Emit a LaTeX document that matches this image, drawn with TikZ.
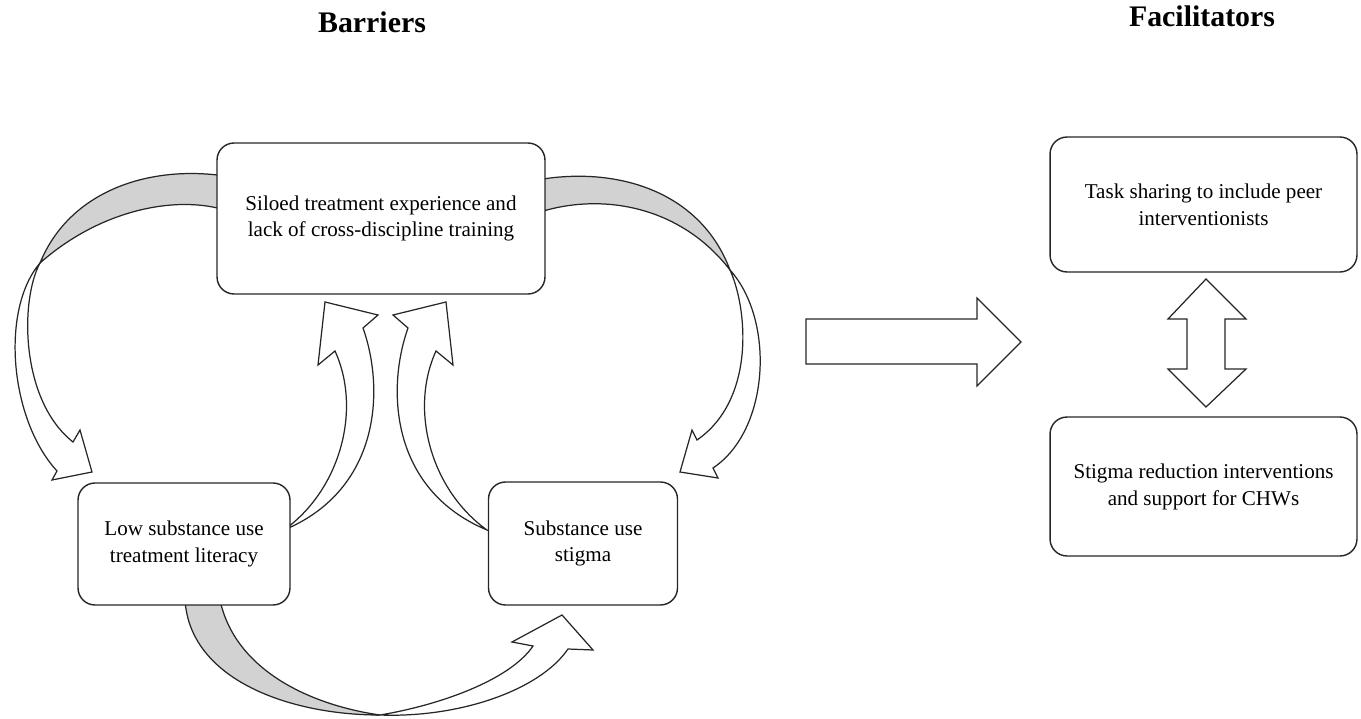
\documentclass[tikz,border=0pt]{standalone}
\usepackage{fontspec}
\setmainfont{Liberation Serif}
\usetikzlibrary{positioning}

\begin{document}
\begin{tikzpicture}[
    x=0.02cm, y=-0.02cm,
    box/.style={rectangle, rounded corners=0.34cm, draw=black!85, line width=0.8pt, fill=white, align=center, inner sep=0pt, font=\fontsize{12}{15.3}\selectfont},
    heading/.style={anchor=base, font=\fontsize{17}{20}\selectfont\bfseries},
    blockarrow/.style={draw=black!85, line width=0.7pt, fill=white},
    backside/.style={draw=black!85, line width=0.7pt, fill=gray!35}
]
    \useasboundingbox (0,0) rectangle (1361,719);

    \node[heading] (barriers) at (372,33) {Barriers};
    \node[heading] (facilitators) at (1202,27) {Facilitators};

    % curved arrows behind the boxes
    \draw[backside] (225,176) .. controls (150,165) and (70,190) .. (40,263) .. controls (100,210) and (175,195) .. (225,210) -- cycle;
    \draw[blockarrow] (40,263) .. controls (0,310) and (10,420) .. (57,471) -- (52,480) -- (92,472) -- (80,430) -- (73,442) .. controls (20,400) and (20,300) .. (40,263) -- cycle;

    \draw[backside] (537,180) .. controls (615,166) and (700,190) .. (730,270) .. controls (680,205) and (600,192) .. (537,213) -- cycle;
    \draw[blockarrow] (730,270) .. controls (775,320) and (770,430) .. (713,468) -- (718,478) -- (680,472) -- (692,430) -- (697,440) .. controls (755,400) and (748,310) .. (730,270) -- cycle;

    \draw[blockarrow] (284,530) .. controls (340,490) and (362,410) .. (335,351) -- (318,365) -- (325,302) -- (378,315) -- (363,328) .. controls (385,390) and (380,490) .. (284,530) -- cycle;
    \draw[blockarrow] (487,530) .. controls (431,490) and (409,410) .. (436,351) -- (453,365) -- (446,302) -- (393,315) -- (408,328) .. controls (386,390) and (391,490) .. (487,530) -- cycle;

    \draw[backside] (185,600) .. controls (190,680) and (290,715) .. (380,715) .. controls (310,705) and (235,670) .. (220,600) -- cycle;
    \draw[blockarrow] (380,715) .. controls (460,718) and (540,690) .. (568,649) -- (593,650) -- (562,615) -- (512,642) -- (533,646) .. controls (510,680) and (440,705) .. (380,715) -- cycle;

    \node[box, minimum width=6.56cm, minimum height=3.02cm] (siloed) at (381,218.5) {Siloed treatment experience and\\lack of cross-discipline training};
    \node[box, minimum width=4.24cm, minimum height=2.44cm] (literacy) at (184,544) {Low substance use\\treatment literacy};
    \node[box, minimum width=3.78cm, minimum height=2.46cm] (stigma) at (583,543.5) {Substance use\\stigma};
    \node[box, minimum width=6.14cm, minimum height=2.7cm] (tasksharing) at (1203.5,204.5) {Task sharing to include peer\\interventionists};
    \node[box, minimum width=6.14cm, minimum height=2.78cm] (reduction) at (1203.5,486.5) {Stigma reduction interventions\\and support for CHWs};

    \draw[blockarrow] (806,319) -- (977,319) -- (977,298) -- (1021,342) -- (977,386) -- (977,364) -- (806,364) -- cycle;
    \draw[blockarrow] (1206,279) -- (1246,319) -- (1225,319) -- (1225,369) -- (1246,369) -- (1206,407) -- (1168,369) -- (1187,369) -- (1187,319) -- (1168,319) -- cycle;
\end{tikzpicture}
\end{document}
